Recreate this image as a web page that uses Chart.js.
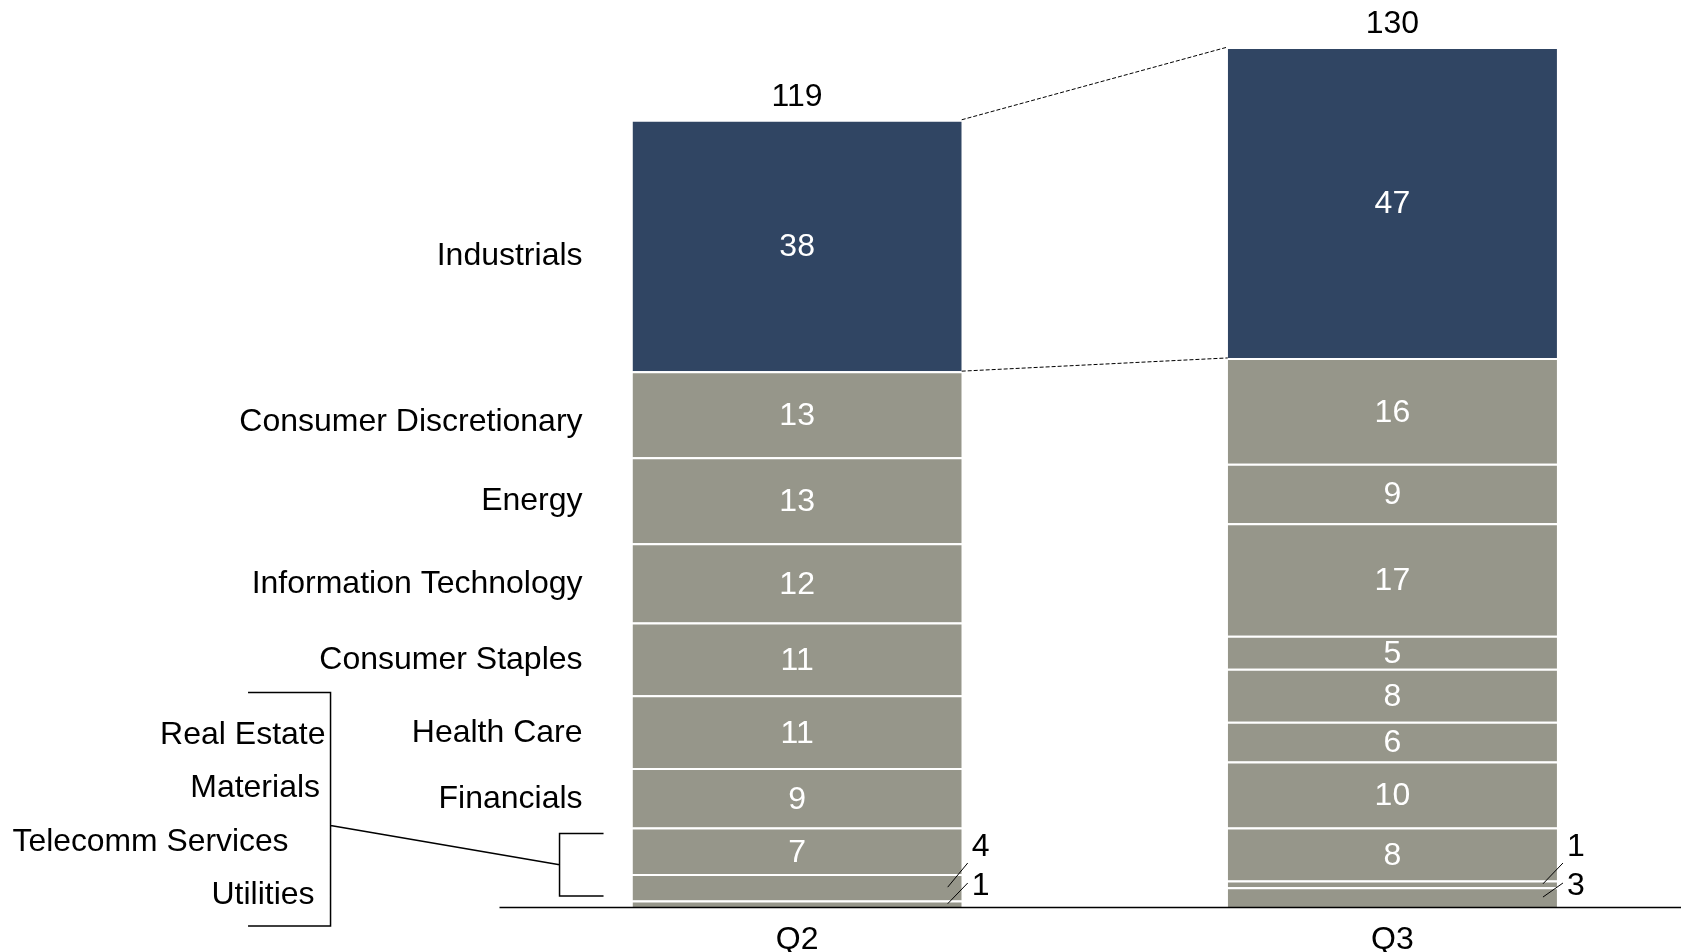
<!DOCTYPE html>
<html>
<head>
<meta charset="utf-8">
<title>Sector deal count, Q2 vs Q3</title>
<script src="https://cdn.jsdelivr.net/npm/chart.js@4/dist/chart.umd.min.js"></script>
<style>
  html, body { margin: 0; padding: 0; background: #fff; overflow: hidden; }
  #wrap { width: 1690px; height: 952px; position: relative; }
</style>
</head>
<body>
<div id="wrap"><canvas id="sector-chart"></canvas></div>
<script>
// Quarters on the x axis
var quarters = ['Q2', 'Q3'];

// Sectors, stacked from the bottom of each bar upwards
var sectors = ['Utilities', 'Telecomm Services', 'Materials', 'Real Estate', 'Financials',
  'Health Care', 'Consumer Staples', 'Information Technology', 'Energy',
  'Consumer Discretionary', 'Industrials'];
var q2Counts = [1, 4, 7, 0, 9, 11, 11, 12, 13, 13, 38];
var q3Counts = [3, 1, 8, 10, 6, 8, 5, 17, 9, 16, 47];

// The four smallest sectors share one bracketed label block
var groupedSectors = ['Real Estate', 'Materials', 'Telecomm Services', 'Utilities'];

var NAVY = '#304563';
var GREY = '#96968a';
var FONT = '"Liberation Sans", Arial, sans-serif';

var totals = quarters.map(function (q, j) {
  return sectors.reduce(function (s, name, i) { return s + [q2Counts, q3Counts][j][i]; }, 0);
});

var datasets = sectors.map(function (name, i) {
  return {
    label: name,
    data: [q2Counts[i], q3Counts[i]],
    backgroundColor: name === 'Industrials' ? NAVY : GREY,
    borderColor: '#ffffff',
    borderWidth: { top: 2, right: 0, bottom: 0, left: 0 },
    borderSkipped: false,
    categoryPercentage: 1,
    barPercentage: 0.553
  };
});

// small vertical nudges for the sector names (px)
var nameNudge = { 'Industrials': 9, 'Consumer Discretionary': 6 };

// Labels, connectors and brackets drawn on top of the bars
var annotations = {
  id: 'annotations',
  afterDatasetsDraw: function (chart) {
    var ctx = chart.ctx;
    var area = chart.chartArea;
    var y = chart.scales.y;
    var top = sectors.length - 1;
    var bars = function (i) { return chart.getDatasetMeta(i).data; };

    ctx.save();

    // x axis line
    ctx.strokeStyle = '#000';
    ctx.lineWidth = 1.5;
    ctx.beginPath();
    ctx.moveTo(area.left, area.bottom + 0.5);
    ctx.lineTo(chart.width, area.bottom + 0.5);
    ctx.stroke();

    ctx.font = '32px ' + FONT;
    ctx.textBaseline = 'middle';

    // values inside the segments
    ctx.textAlign = 'center';
    ctx.fillStyle = '#fff';
    sectors.forEach(function (name, i) {
      bars(i).forEach(function (bar, j) {
        var v = chart.data.datasets[i].data[j];
        if (v >= 5) ctx.fillText(String(v), bar.x, (bar.y + bar.base) / 2 + 2);
      });
    });

    // small values outside the bar with leader lines
    quarters.forEach(function (q, j) {
      var small = [];
      for (var i = top; i >= 0; i--) {
        var v = chart.data.datasets[i].data[j];
        if (v > 0 && v < 5) small.push({ v: v, bar: bars(i)[j] });
      }
      small.forEach(function (s, k) {
        var right = s.bar.x + s.bar.width / 2;
        var labelY = area.bottom - 60 + 39 * k;
        var endY = k === 0 ? labelY + 16 : labelY - 3;
        ctx.strokeStyle = '#000';
        ctx.lineWidth = 1;
        ctx.beginPath();
        ctx.moveTo(right - 14, (s.bar.y + s.bar.base) / 2);
        ctx.lineTo(right + 6, endY);
        ctx.stroke();
        ctx.fillStyle = '#000';
        ctx.textAlign = 'left';
        ctx.fillText(String(s.v), right + 10, labelY);
      });
    });

    // totals above the bars
    ctx.fillStyle = '#000';
    ctx.textAlign = 'center';
    bars(top).forEach(function (bar, j) {
      ctx.fillText(String(totals[j]), bar.x, y.getPixelForValue(totals[j]) - 23);
    });

    // dashed connectors around the Industrials segment
    var a = bars(top)[0], b = bars(top)[1];
    ctx.strokeStyle = '#000';
    ctx.lineWidth = 1;
    ctx.setLineDash([4, 2]);
    ctx.beginPath();
    ctx.moveTo(a.x + a.width / 2, a.y);
    ctx.lineTo(b.x - b.width / 2, b.y);
    ctx.moveTo(a.x + a.width / 2, a.base);
    ctx.lineTo(b.x - b.width / 2, b.base);
    ctx.stroke();
    ctx.setLineDash([]);

    // sector names beside the Q2 bar
    var q2Left = a.x - a.width / 2;
    ctx.textAlign = 'right';
    sectors.forEach(function (name, i) {
      if (groupedSectors.indexOf(name) >= 0) return;
      var bar = bars(i)[0];
      var nudge = nameNudge[name] !== undefined ? nameNudge[name] : -1;
      ctx.fillText(name, q2Left - 50, (bar.y + bar.base) / 2 + 2 + nudge);
    });

    // bracketed block for the smallest sectors
    var bx = q2Left - 302;
    var bTop = area.bottom - 214.5;
    var bBottom = area.bottom + 19;
    var offsets = [5, 10.5, 42, 16];
    groupedSectors.forEach(function (name, k) {
      var maxW = name === 'Telecomm Services' ? 276 : undefined;
      ctx.fillText(name, bx - offsets[k], bTop + 42.5 + 53.4 * k, maxW);
    });

    var groupTop = bars(sectors.indexOf('Real Estate'))[0].y;
    var sx = q2Left - 73;
    var sTop = groupTop + 6;
    var sBottom = area.bottom - 11;

    ctx.strokeStyle = '#000';
    ctx.lineWidth = 1.5;
    ctx.beginPath();
    ctx.moveTo(bx - 82.5, bTop);
    ctx.lineTo(bx, bTop);
    ctx.lineTo(bx, bBottom);
    ctx.lineTo(bx - 82.5, bBottom);
    ctx.moveTo(q2Left - 29, sTop);
    ctx.lineTo(sx, sTop);
    ctx.lineTo(sx, sBottom);
    ctx.lineTo(q2Left - 29, sBottom);
    ctx.moveTo(bx, bTop + 133);
    ctx.lineTo(sx, (sTop + sBottom) / 2);
    ctx.stroke();

    ctx.restore();
  }
};

var ctx = document.getElementById('sector-chart').getContext('2d');
var sectorChart = new Chart(ctx, {
  type: 'bar',
  data: { labels: quarters, datasets: datasets },
  options: {
    responsive: true,
    maintainAspectRatio: false,
    animation: false,
    layout: { padding: { left: 499.5, right: 0, top: 47, bottom: 0 } },
    scales: {
      x: {
        stacked: true,
        grid: { display: false, drawTicks: false },
        border: { display: false },
        ticks: { color: '#000', padding: 14, font: { family: FONT, size: 32 } },
        // keep the baseline low; the quarter labels sit just under it
        afterFit: function (scale) { scale.height = 45; }
      },
      y: {
        stacked: true,
        display: false,
        min: 0,
        max: Math.max.apply(null, totals)
      }
    },
    plugins: {
      legend: { display: false },
      tooltip: { enabled: false }
    }
  },
  plugins: [annotations]
});
</script>
</body>
</html>
